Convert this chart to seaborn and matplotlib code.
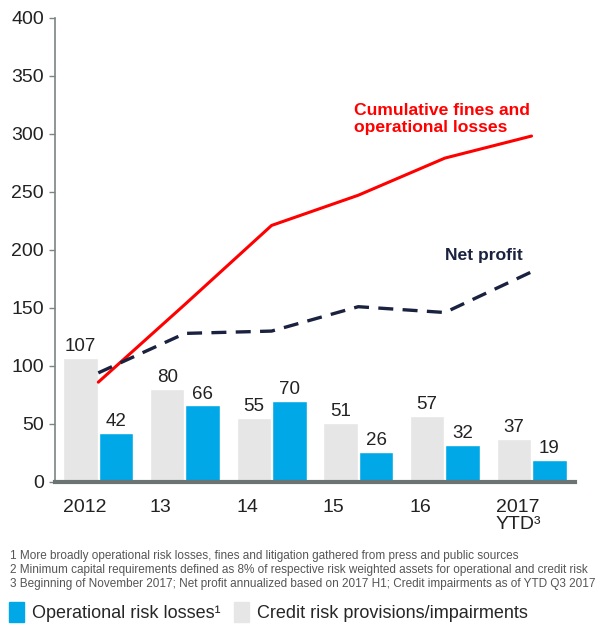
import pandas as pd
import matplotlib.pyplot as plt
import matplotlib.patches as mpatches
import seaborn as sns

sns.set_theme(style="white")
plt.rcParams["font.family"] = ["Liberation Sans", "DejaVu Sans"]

# data
years = ["2012", "13", "14", "15", "16", "2017\nYTD\u00b3"]
credit = [107, 80, 55, 51, 57, 37]
operational = [42, 66, 70, 26, 32, 19]
cumulative = [86, 153, 221, 247, 279, 298]
net_profit = [94, 128, 130, 151, 146, 181]

blue = "#00a8e8"
grey = "#e6e6e6"
red = "#ff0000"
navy = "#1a2240"

df = pd.DataFrame({
    "year": years * 2,
    "value": credit + operational,
    "kind": ["credit"] * len(years) + ["operational"] * len(years),
})

fig = plt.figure(figsize=(6.01, 6.25), dpi=100)
ax = fig.add_axes([0.0915, 0.2288, 0.865, 0.743])

sns.barplot(data=df, x="year", y="value", hue="kind",
            palette={"credit": grey, "operational": blue}, saturation=1,
            width=0.82, gap=0.03, legend=False, ax=ax)

for cont in ax.containers:
    for bar in cont:
        h = bar.get_height()
        ax.annotate(f"{h:.0f}", (bar.get_x() + bar.get_width() / 2, h),
                    xytext=(0, 2), textcoords="offset points",
                    ha="center", va="bottom", fontsize=13.5, color="#222222")

pos = list(range(len(years)))
sns.lineplot(x=pos, y=cumulative, color=red, lw=2.2, ax=ax)
sns.lineplot(x=pos, y=net_profit, color=navy, lw=2.4, ax=ax)
ax.lines[-1].set_dashes((4.5, 2.8))

ax.text(2.95, 313, "Cumulative fines and\noperational losses",
        color=red, fontsize=12.6, fontweight="bold", va="center",
        linespacing=1.15)
ax.text(4.0, 195, "Net profit", color=navy, fontsize=12.6,
        fontweight="bold", va="center")

ax.set_xlim(-0.5, 5.5)
ax.set_ylim(0, 400)
ax.set_yticks(range(0, 401, 50))
ax.set_xticks([p - 0.41 for p in pos])
ax.set_xticklabels(years, ha="left", va="top", fontsize=14,
                   linespacing=1.0)
ax.tick_params(axis="x", length=0, pad=12, colors="#222222")
ax.tick_params(axis="y", length=4, width=1, color="#7a8584",
               labelsize=14, labelcolor="#222222", pad=4, left=True)
ax.set_xlabel("")
ax.set_ylabel("")

for s in ["top", "right"]:
    ax.spines[s].set_visible(False)
ax.spines["left"].set_color("#7a8584")
ax.spines["left"].set_linewidth(1.2)
ax.spines["bottom"].set_color("#6b7472")
ax.spines["bottom"].set_linewidth(3)

notes = [
    "1 More broadly operational risk losses, fines and litigation gathered from press and public sources",
    "2 Minimum capital requirements defined as 8% of respective risk weighted assets for operational and credit risk",
    "3 Beginning of November 2017; Net profit annualized based on 2017 H1; Credit impairments as of YTD Q3 2017",
]
for i, n in enumerate(notes):
    fig.text(0.017, 1 - (556 + 14 * i) / 625, n, fontsize=8.5,
             color="#555555", va="center")

handles = [mpatches.Patch(color=blue, label="Operational risk losses\u00b9"),
           mpatches.Patch(color=grey, label="Credit risk provisions/impairments")]
fig.legend(handles=handles, loc="center left", bbox_to_anchor=(0.0, 1 - 612 / 625),
           ncol=2, frameon=False, fontsize=13, handlelength=0.85,
           handleheight=1.3, handletextpad=0.45, columnspacing=0.7,
           borderaxespad=0.1)

plt.savefig("out.png", dpi=100)
plt.close()
